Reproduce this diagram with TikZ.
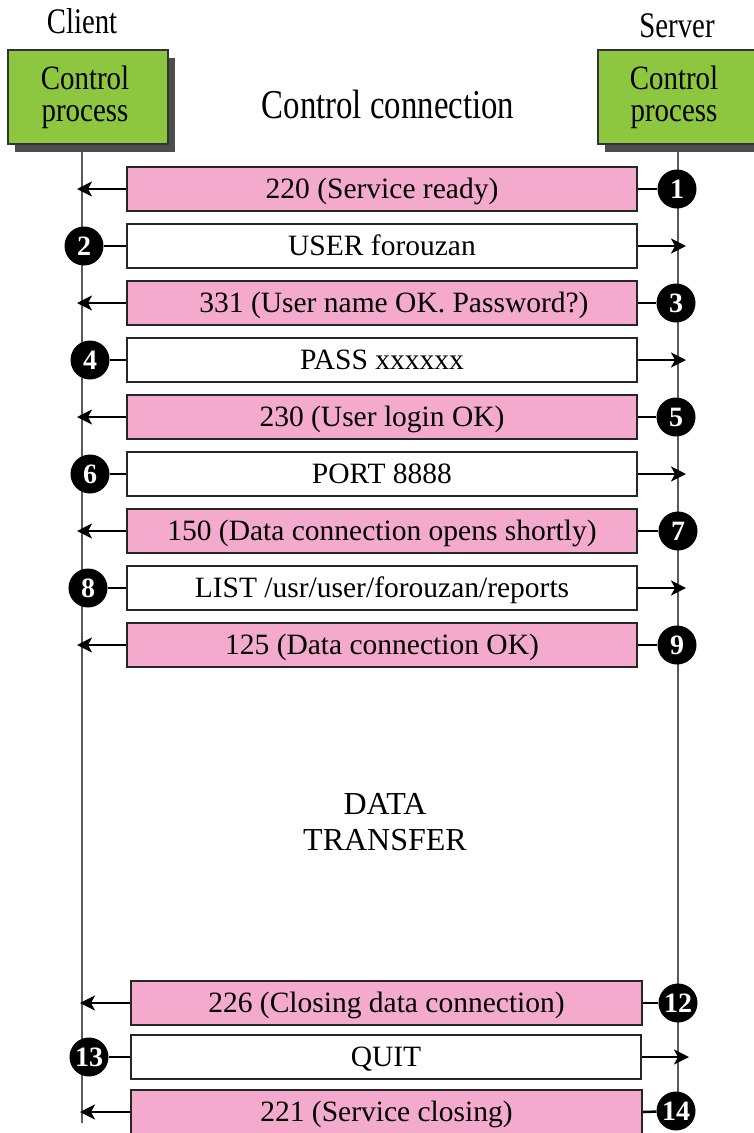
\documentclass[tikz,border=0pt]{standalone}
\usepackage{fontspec}
\setmainfont{Liberation Serif}
\newfontfamily\condfont{Liberation Serif}[FakeStretch=0.8]
\newfontfamily\procfont{Liberation Serif}[FakeStretch=0.85]
\usetikzlibrary{arrows.meta,shadows}
\definecolor{rowpink}{RGB}{244,170,204}
\definecolor{boxgreen}{RGB}{141,198,63}
\definecolor{shadowgray}{RGB}{77,77,77}
\definecolor{lifegray}{RGB}{90,90,90}
\begin{document}
\begin{tikzpicture}[x=1pt,y=-1pt,
  proc/.style={draw=black!80, line width=1.5pt, fill=boxgreen, minimum width=160pt, minimum height=94pt,
    inner sep=0pt, align=center, font=\procfont\fontsize{34}{32}\selectfont,
    general shadow={fill=shadowgray, shadow xshift=7pt, shadow yshift=-8pt}},
  title/.style={font=\condfont\fontsize{36}{40}\selectfont, inner sep=0pt},
  rowbox/.style={draw=black!85, line width=2pt, minimum width=510pt, minimum height=44pt, inner sep=0pt,
    text height=23pt, text depth=5pt, font=\fontsize{29.5}{32}\selectfont},
  pinkrow/.style={rowbox, fill=rowpink},
  whiterow/.style={rowbox, fill=white},
  num/.style={circle, fill=black, minimum size=39pt, inner sep=0pt, text=white,
    font=\bfseries\fontsize{28}{28}\selectfont},
  conn/.style={line width=2.5pt, draw=black},
  arr/.style={conn, -{Stealth[length=15pt,width=15pt,inset=4pt]}},
  lifeline/.style={line width=2pt, draw=lifegray}
]
\useasboundingbox (0,0) rectangle (753,1133);

% lifelines
\coordinate (ctop) at (82,144);
\coordinate (cbot) at (82,1123);
\coordinate (stop) at (678,150);
\coordinate (sbot) at (678,1123);
\draw[lifeline] (ctop) -- (cbot);
\draw[lifeline] (stop) -- (sbot);

% headers
\node[title] (client) at (82,21) {Client};
\node[title] (server) at (677,26) {Server};
\node[proc] (cproc) at (88,97) {\hspace*{-6pt}Control\\\hspace*{-6pt}process};
\node[proc] (sproc) at (678,97) {\hspace*{-8pt}Control\\\hspace*{-8pt}process};
\node[font=\condfont\fontsize{41}{44}\selectfont, inner sep=0pt] (cc) at (388,104) {Control connection};

% arrow end coordinates
\coordinate (cl) at (77,0);
\coordinate (sr) at (686,0);
\coordinate (cl2) at (80,0);
\coordinate (sr2) at (689,0);

% rows 1-9
\node[pinkrow]  (r1) at (382,189) {220 (Service ready)};
\node[whiterow] (r2) at (382,246) {USER forouzan};
\node[pinkrow]  (r3) at (382,303) {\hspace*{24pt}331 (User name OK. Password?)};
\node[whiterow] (r4) at (382,360) {PASS xxxxxx};
\node[pinkrow]  (r5) at (382,417) {230 (User login OK)};
\node[whiterow] (r6) at (382,474) {PORT 8888};
\node[pinkrow]  (r7) at (382,531) {150 (Data connection opens shortly)};
\node[whiterow] (r8) at (382,588) {LIST /usr/user/forouzan/reports};
\node[pinkrow]  (r9) at (382,645) {125 (Data connection OK)};

% rows 12-14
\node[pinkrow, minimum width=511pt]  (r12) at (386.5,1003) {226 (Closing data connection)};
\node[whiterow, minimum width=510pt] (r13) at (386,1057) {QUIT};
\node[pinkrow, minimum width=511pt]  (r14) at (386.5,1112) {221 (Service closing)};

% circles
\node[num] (c1) at (677,189) {1};
\node[num] (c2) at (84,246) {2};
\node[num] (c3) at (676,303) {3};
\node[num] (c4) at (90,360) {4};
\node[num] (c5) at (676,417) {5};
\node[num] (c6) at (90,474) {6};
\node[num] (c7) at (678,531) {7};
\node[num] (c8) at (88,588) {8};
\node[num] (c9) at (677,645) {9};
\node[num] (c12) at (678,1003) {12};
\node[num] (c13) at (89,1057) {13};
\node[num] (c14) at (676,1111) {14};

% connectors: server -> client (pink)
\foreach \i in {1,3,5,7,9} {
  \draw[conn] (r\i.east) -- (c\i);
  \draw[arr] (r\i.west) -- (r\i.west -| cl);
}
\foreach \i in {12,14} {
  \draw[conn] (r\i.east) -- (c\i);
  \draw[arr] (r\i.west) -- (r\i.west -| cl2);
}
% client -> server (white)
\foreach \i in {2,4,6,8} {
  \draw[conn] (c\i) -- (r\i.west);
  \draw[arr] (r\i.east) -- (r\i.east -| sr);
}
\draw[conn] (c13) -- (r13.west);
\draw[arr] (r13.east) -- (r13.east -| sr2);

% data transfer
\node[font=\fontsize{32}{36}\selectfont, align=center, inner sep=0pt] (dt) at (385,822) {DATA\\TRANSFER};
\end{tikzpicture}
\end{document}
